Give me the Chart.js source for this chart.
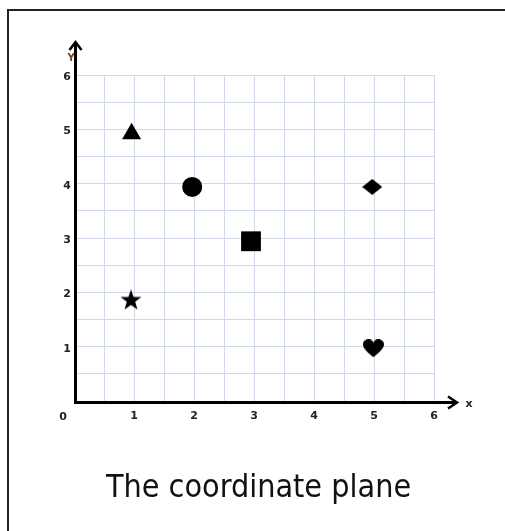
<!DOCTYPE html>
<html>
<head>
<meta charset="utf-8">
<script src="https://cdn.jsdelivr.net/npm/chart.js@4.4.1/dist/chart.umd.min.js"></script>
<style>
  html, body { margin: 0; padding: 0; background: #fff; overflow: hidden; }
  #frame { position: absolute; left: 7px; top: 9px; width: 600px; height: 600px; border: 2px solid #222; }
  #plane { position: absolute; left: 0; top: 0; }
  #caption { position: absolute; left: 0; width: 517px; top: 470px; line-height: 32px; text-align: center;
             font-family: "DejaVu Sans Condensed", "DejaVu Sans", sans-serif; font-size: 32px; color: #111; }
</style>
</head>
<body>
<div id="frame"></div>
<canvas id="plane" width="505" height="531"></canvas>
<div id="caption">The coordinate plane</div>
<script>
// shapes plotted on the plane
const shapes = ['triangle', 'circle', 'square', 'diamond', 'star', 'heart'];
const xValues = [0.96, 1.97, 2.95, 4.97, 0.95, 4.99];
const yValues = [4.92, 3.94, 2.94, 3.94, 1.86, 0.97];

// labelled ticks
const xTicks = [1, 2, 3, 4, 5, 6];
const yTicks = [1, 2, 3, 4, 5, 6];

function makeMarker(w, h, draw) {
    const c = document.createElement('canvas');
    c.width = w;
    c.height = h;
    const ctx = c.getContext('2d');
    ctx.fillStyle = '#000';
    ctx.beginPath();
    draw(ctx, w, h);
    ctx.closePath();
    ctx.fill();
    return c;
}

const starImg = makeMarker(22, 21, function(ctx) {
    const cx = 11, cy = 11, R = 11, r = 4.4;
    for (let i = 0; i < 10; i++) {
        const a = -Math.PI / 2 + i * Math.PI / 5;
        const rad = i % 2 === 0 ? R : r;
        ctx.lineTo(cx + rad * Math.cos(a), cy + rad * Math.sin(a));
    }
});

const heartImg = makeMarker(21, 18, function(ctx, w, h) {
    ctx.moveTo(w / 2, h);
    ctx.bezierCurveTo(w * 0.1, h * 0.62, 0, h * 0.45, 0, h * 0.28);
    ctx.bezierCurveTo(0, h * 0.08, w * 0.15, 0, w * 0.28, 0);
    ctx.bezierCurveTo(w * 0.4, 0, w * 0.48, h * 0.1, w / 2, h * 0.2);
    ctx.bezierCurveTo(w * 0.52, h * 0.1, w * 0.6, 0, w * 0.72, 0);
    ctx.bezierCurveTo(w * 0.85, 0, w, h * 0.08, w, h * 0.28);
    ctx.bezierCurveTo(w, h * 0.45, w * 0.9, h * 0.62, w / 2, h);
});

const diamondImg = makeMarker(20, 16, function(ctx, w, h) {
    ctx.moveTo(w / 2, 0);
    ctx.lineTo(w, h / 2);
    ctx.lineTo(w / 2, h);
    ctx.lineTo(0, h / 2);
});

const styleFor = {
    triangle: ['triangle', 11],
    circle: ['circle', 10],
    square: ['rect', 14],
    diamond: [diamondImg, 10],
    star: [starImg, 10],
    heart: [heartImg, 10]
};

// axes with arrow heads, drawn over the grid
const axisArrows = {
    id: 'axisArrows',
    beforeDatasetsDraw(chart) {
        const ctx = chart.ctx;
        const a = chart.chartArea;
        const ax = a.left + 1.5;
        const ay = a.bottom + 1.5;
        ctx.save();
        ctx.strokeStyle = '#000';
        ctx.lineWidth = 3;
        ctx.lineCap = 'butt';
        ctx.beginPath();
        ctx.moveTo(ax, ay + 1.5);
        ctx.lineTo(ax, 43);
        ctx.moveTo(ax - 1.5, ay);
        ctx.lineTo(456, ay);
        ctx.stroke();

        ctx.lineWidth = 2.5;
        ctx.lineJoin = 'miter';
        ctx.beginPath();
        ctx.moveTo(ax - 6, 50);
        ctx.lineTo(ax, 42);
        ctx.lineTo(ax + 6, 50);
        ctx.moveTo(448, ay - 6);
        ctx.lineTo(457, ay);
        ctx.lineTo(448, ay + 6);
        ctx.stroke();

        ctx.fillStyle = '#222';
        ctx.font = 'bold 11px "DejaVu Sans"';
        ctx.textAlign = 'center';
        ctx.textBaseline = 'middle';
        ctx.fillText('0', 63, 417);
        ctx.fillText('x', 469, 404);
        ctx.font = 'bold 10px "DejaVu Sans"';
        ctx.fillStyle = '#6b4a22';
        ctx.fillText('Y', 71, 58);
        ctx.restore();
    }
};

const gridColor = '#d0d9ea';

new Chart(document.getElementById('plane'), {
    type: 'scatter',
    data: {
        datasets: [{
            data: xValues.map((x, i) => ({ x: x, y: yValues[i] })),
            pointStyle: shapes.map(s => styleFor[s][0]),
            pointRadius: shapes.map(s => styleFor[s][1]),
            pointBackgroundColor: '#000',
            pointBorderWidth: 0,
            clip: false
        }]
    },
    options: {
        responsive: false,
        animation: false,
        events: [],
        layout: { padding: { left: 54, right: 71, top: 75, bottom: 100 } },
        plugins: { legend: { display: false }, tooltip: { enabled: false } },
        scales: {
            x: {
                type: 'linear',
                min: 0,
                max: 6,
                afterFit(scale) { scale.height = 30; },
                border: { display: false },
                grid: { color: gridColor, lineWidth: 1, drawTicks: false },
                ticks: {
                    stepSize: 0.5,
                    autoSkip: false,
                    maxRotation: 0,
                    padding: 9,
                    color: '#222',
                    font: { family: 'DejaVu Sans', size: 11, weight: 'bold' },
                    callback: v => xTicks.includes(v) ? String(v) : ''
                }
            },
            y: {
                type: 'linear',
                min: 0,
                max: 6,
                afterFit(scale) { scale.width = 20; },
                border: { display: false },
                grid: { color: gridColor, lineWidth: 1, drawTicks: false },
                ticks: {
                    stepSize: 0.5,
                    autoSkip: false,
                    padding: 3,
                    labelOffset: 2,
                    color: '#222',
                    font: { family: 'DejaVu Sans', size: 11, weight: 'bold' },
                    callback: v => yTicks.includes(v) ? String(v) : ''
                }
            }
        }
    },
    plugins: [axisArrows]
});
</script>
</body>
</html>
